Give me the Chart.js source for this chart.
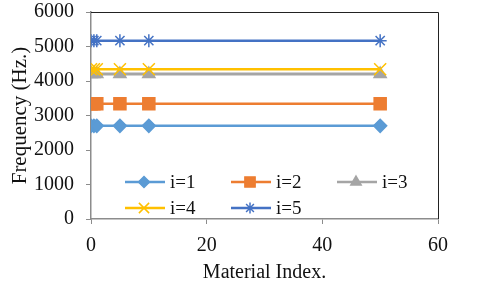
<!DOCTYPE html>
<html>
<head>
<meta charset="utf-8">
<script src="https://cdn.jsdelivr.net/npm/chart.js@4/dist/chart.umd.min.js"></script>
<style>
  html, body { margin: 0; padding: 0; background: #fff; }
  #wrap { width: 480px; height: 289px; }
</style>
</head>
<body>
<div id="wrap"><canvas id="freq-chart" width="480" height="289"></canvas></div>
<script>
const materialIndex = [0, 0.5, 1, 5, 10, 50];
const seriesNames = ["i=1", "i=2", "i=3", "i=4", "i=5"];
const freq1 = [2700, 2700, 2700, 2700, 2700, 2700];
const freq2 = [3340, 3340, 3340, 3340, 3340, 3340];
const freq3 = [4200, 4200, 4200, 4200, 4200, 4200];
const freq4 = [4340, 4340, 4340, 4340, 4340, 4340];
const freq5 = [5170, 5170, 5170, 5170, 5170, 5170];
const yTicks = [0, 1000, 2000, 3000, 4000, 5000, 6000];
const xTicks = [0, 20, 40, 60];

const colors = ["#5B9BD5", "#ED7D31", "#A5A5A5", "#FFC000", "#4472C4"];
const markers = ["rectRot", "rect", "triangle", "crossRot", "star"];
const sizes = [6.5, 8.5, 7, 8.5, 6.5];
const allFreq = [freq1, freq2, freq3, freq4, freq5];

const FONT = "'Liberation Serif', 'Times New Roman', serif";

function pts(ys) {
  return materialIndex.map((x, k) => ({ x: x, y: ys[k] }));
}

// legend drawn inside the plot area, two rows, line + marker like Excel
const insideLegend = {
  id: "insideLegend",
  afterDraw(chart) {
    const ctx = chart.ctx;
    const a = chart.chartArea;
    const cols = [a.left + 34, a.left + 140, a.left + 246];
    const rows = [a.bottom - 37, a.bottom - 11];
    ctx.save();
    chart.data.datasets.forEach((ds, i) => {
      const x = cols[i % 3];
      const y = rows[Math.floor(i / 3)];
      ctx.strokeStyle = ds.borderColor;
      ctx.lineWidth = 2.5;
      ctx.beginPath();
      ctx.moveTo(x, y);
      ctx.lineTo(x + 40, y);
      ctx.stroke();
      ctx.fillStyle = ds.pointBackgroundColor;
      ctx.strokeStyle = ds.pointBorderColor;
      ctx.lineWidth = 1.5;
      Chart.helpers.drawPoint(ctx, {
        pointStyle: ds.pointStyle,
        radius: ds.pointRadius * 0.85,
        rotation: 0,
        borderWidth: 1.5
      }, x + 19, y);
      ctx.fillStyle = "#111";
      ctx.font = "19px " + FONT;
      ctx.textBaseline = "middle";
      ctx.fillText(ds.label, x + 45, y + 1);
    });
    // black frame on top and right of plot area
    ctx.strokeStyle = "#222";
    ctx.lineWidth = 1;
    ctx.beginPath();
    ctx.moveTo(a.left, a.top + 0.5);
    ctx.lineTo(a.right + 0.5, a.top + 0.5);
    ctx.lineTo(a.right + 0.5, a.bottom);
    ctx.stroke();
    ctx.restore();
  }
};

new Chart(document.getElementById("freq-chart"), {
  type: "line",
  data: {
    datasets: seriesNames.map((name, i) => ({
      label: name,
      data: pts(allFreq[i]),
      borderColor: colors[i],
      backgroundColor: colors[i],
      pointBackgroundColor: colors[i],
      pointBorderColor: colors[i],
      pointStyle: markers[i],
      pointRadius: sizes[i],
      pointBorderWidth: 1.5,
      borderWidth: i === 2 ? 3 : 2.5,
      order: 4 - i,
      tension: 0
    }))
  },
  options: {
    responsive: false,
    animation: false,
    layout: { padding: { top: 12, right: 42, left: 0, bottom: 0 } },
    plugins: {
      legend: { display: false },
      tooltip: { enabled: false }
    },
    scales: {
      x: {
        type: "linear",
        min: 0,
        max: 60,
        afterBuildTicks: (s) => { s.ticks = xTicks.map(v => ({ value: v })); },
        afterFit: (s) => { s.height = 70; s.paddingLeft = 0; s.paddingRight = 0; },
        border: { color: "#8c8c8c", width: 1.5 },
        grid: { drawOnChartArea: false, tickLength: 5, color: "#8c8c8c" },
        ticks: { color: "#111", font: { family: FONT, size: 20 }, padding: 10, maxRotation: 0, callback: (v) => String(v) },
        title: { display: true, text: "Material Index.", color: "#111", font: { family: FONT, size: 20 }, padding: { top: 3 } }
      },
      y: {
        min: 0,
        max: 6000,
        afterBuildTicks: (s) => { s.ticks = yTicks.map(v => ({ value: v })); },
        afterFit: (s) => { s.width = 91; s.paddingTop = 0; s.paddingBottom = 0; },
        border: { color: "#8c8c8c", width: 1.5 },
        grid: { drawOnChartArea: false, tickLength: 5, color: "#8c8c8c" },
        ticks: { color: "#111", font: { family: FONT, size: 20 }, padding: 12, callback: (v) => String(v) },
        title: { display: true, text: "Frequency (Hz.)", color: "#111", font: { family: FONT, size: 21 }, padding: { top: 8, bottom: 2 } }
      }
    }
  },
  plugins: [insideLegend]
});
</script>
</body>
</html>
